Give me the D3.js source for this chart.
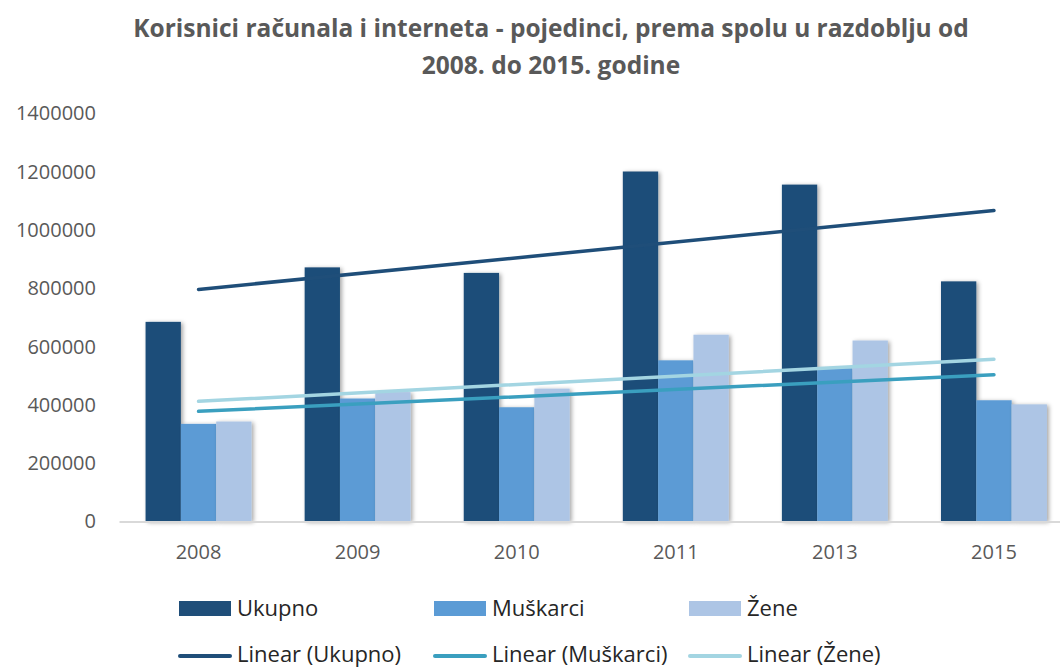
<!DOCTYPE html>
<html>
<head>
<meta charset="utf-8">
<script src="https://cdn.jsdelivr.net/npm/d3@7"></script>
<style>
    body { margin: 0; background: #fff; }
    svg { display: block; font-family: "Open Sans", sans-serif; }
</style>
</head>
<body>
<div id="chart"></div>
<script>
const years = ['2008', '2009', '2010', '2011', '2013', '2015'];
const ukupno = [685000, 872000, 853000, 1201000, 1156000, 824000];
const muskarci = [335000, 422000, 392000, 553000, 526000, 416000];
const zene = [343000, 444000, 456000, 641000, 621000, 402000];
const yTicks = [0, 200000, 400000, 600000, 800000, 1000000, 1200000, 1400000];

const seriesNames = ['Ukupno', 'Muškarci', 'Žene'];
const barColors = ['#1f4e79', '#5b9bd5', '#adc5e5'];
const trendColors = ['#1f4e79', '#3a9fbf', '#a3d5e2'];

const width = 1060, height = 669;

let series = [ukupno, muskarci, zene].map((vals, i) => ({
    name: seriesNames[i],
    values: vals
}));

const svg = d3.select('#chart').append('svg')
    .attr('width', width)
    .attr('height', height);

// soft shadow like the office chart
const defs = svg.append('defs');
const f = defs.append('filter').attr('id', 'shadow')
    .attr('x', '-20%').attr('y', '-20%').attr('width', '160%').attr('height', '160%');
f.append('feDropShadow')
    .attr('dx', 2).attr('dy', 1).attr('stdDeviation', 2)
    .attr('flood-color', '#000').attr('flood-opacity', 0.35);

// title
const title = svg.append('text')
    .attr('text-anchor', 'middle')
    .attr('fill', '#595959')
    .style('font-weight', 'bold')
    .style('font-size', '24.5px');
title.append('tspan').attr('x', 551).attr('y', 37)
    .text('Korisnici računala i interneta - pojedinci, prema spolu u razdoblju od');
title.append('tspan').attr('x', 551).attr('y', 74)
    .text('2008. do 2015. godine');

const x = d3.scaleBand()
    .domain(years)
    .range([119, 1073.5])
    .paddingInner(0.334)
    .paddingOuter(0.167);

const xSub = d3.scaleBand()
    .domain(seriesNames)
    .range([0, x.bandwidth()]);

const y = d3.scaleLinear()
    .domain([0, 1400000])
    .range([521.5, 113.5]);

// y axis labels
const yAxis = svg.append('g')
    .attr('transform', 'translate(96,0)')
    .call(d3.axisLeft(y).tickValues(yTicks).tickSize(0).tickPadding(0).tickFormat(d3.format('d')));
yAxis.select('.domain').remove();
yAxis.selectAll('text')
    .attr('fill', '#595959')
    .style('font-family', '"Open Sans", sans-serif')
    .style('font-size', '20px');

// bars
const groups = svg.append('g').selectAll('g')
    .data(years)
    .join('g')
    .attr('transform', d => `translate(${x(d)},0)`);

groups.selectAll('rect')
    .data((d, i) => series.map(s => ({ name: s.name, value: s.values[i] })))
    .join('rect')
    .attr('x', d => xSub(d.name))
    .attr('y', d => y(d.value))
    .attr('width', xSub.bandwidth())
    .attr('height', d => y(0) - y(d.value))
    .attr('fill', d => barColors[seriesNames.indexOf(d.name)])
    .attr('filter', 'url(#shadow)');

// x axis
const xAxis = svg.append('g')
    .attr('transform', `translate(0,${y(0)})`)
    .call(d3.axisBottom(x).tickSize(0).tickPadding(23));
xAxis.select('.domain')
    .attr('stroke', '#d9d9d9')
    .attr('stroke-width', 2);
xAxis.selectAll('text')
    .attr('fill', '#595959')
    .style('font-family', '"Open Sans", sans-serif')
    .style('font-size', '20px');

// linear trend lines (least squares over category index)
function trend(vals) {
    const n = vals.length;
    const xs = vals.map((v, i) => i + 1);
    const mx = d3.mean(xs), my = d3.mean(vals);
    const slope = d3.sum(xs, (xi, i) => (xi - mx) * (vals[i] - my)) / d3.sum(xs, xi => (xi - mx) * (xi - mx));
    const b = my - slope * mx;
    return [1, n].map(xi => ({ i: xi - 1, v: b + slope * xi }));
}

const line = d3.line()
    .x(d => x(years[d.i]) + x.bandwidth() / 2)
    .y(d => y(d.v));

svg.append('g').selectAll('path')
    .data(series)
    .join('path')
    .attr('d', s => line(trend(s.values)))
    .attr('fill', 'none')
    .attr('stroke', (s, i) => trendColors[i])
    .attr('stroke-width', 3.5)
    .attr('stroke-linecap', 'round');

// legend
const legendX = [179, 434, 689];
const legend = svg.append('g');
series.forEach((s, i) => {
    legend.append('rect')
        .attr('x', legendX[i]).attr('y', 601)
        .attr('width', 52).attr('height', 15)
        .attr('fill', barColors[i]);
    legend.append('text')
        .attr('x', legendX[i] + 58).attr('y', 608)
        .attr('dy', '0.35em')
        .attr('fill', '#262626')
        .style('font-size', '22px')
        .text(s.name);
    legend.append('line')
        .attr('x1', legendX[i] + 1).attr('x2', legendX[i] + 51)
        .attr('y1', 656).attr('y2', 656)
        .attr('stroke', trendColors[i])
        .attr('stroke-width', 4)
        .attr('stroke-linecap', 'round');
    legend.append('text')
        .attr('x', legendX[i] + 58).attr('y', 654)
        .attr('dy', '0.35em')
        .attr('fill', '#262626')
        .style('font-size', '22px')
        .text(`Linear (${s.name})`);
});
</script>
</body>
</html>
